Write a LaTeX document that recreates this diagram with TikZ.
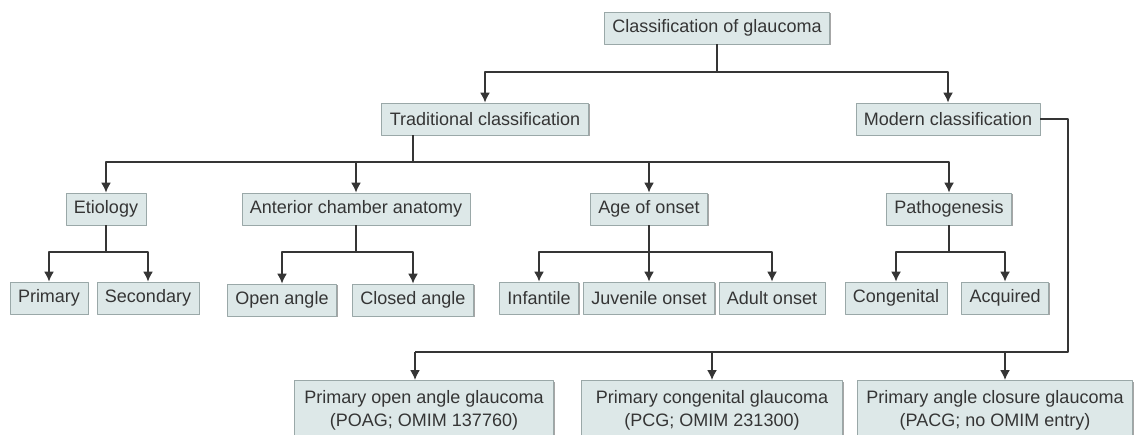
\documentclass[tikz,border=0pt]{standalone}
\usepackage{fontspec}
\setmainfont{Liberation Sans}
\usetikzlibrary{arrows.meta,shadows}
\definecolor{boxfill}{HTML}{DDE8E8}
\definecolor{boxline}{HTML}{9AA8A8}
\definecolor{ink}{HTML}{353535}
\begin{document}
\begin{tikzpicture}[x=0.5pt,y=-0.5pt,font=\fontsize{9}{11.5}\selectfont,line join=round,>={Latex[length=5pt,width=5pt]},
	box/.style={draw=boxline,fill=boxfill,text=ink,inner xsep=4pt,minimum height=16pt,drop shadow={shadow xshift=0.7pt,shadow yshift=-0.7pt,fill=black!35,opacity=1}},
	wide/.style={box,anchor=north,align=center,minimum width=#1,minimum height=30pt},
	link/.style={draw=ink,line width=0.8pt}]
	\useasboundingbox (0,0) rectangle (1143,434);
	\clip (0,0) rectangle (1143,434);
	% top levels
	\node[box] (root) at (717,28) {Classification of glaucoma};
	\node[box] (trad) at (485,119) {Traditional classification};
	\node[box] (modern) at (948,119) {Modern classification};
	% traditional branches
	\node[box] (etio) at (106,209) {Etiology};
	\node[box] (anat) at (356,209) {Anterior chamber anatomy};
	\node[box] (age) at (649,209) {Age of onset};
	\node[box] (patho) at (949,209) {Pathogenesis};
	\node[box] (prim) at (49,298) {Primary};
	\node[box] (sec) at (148,298) {Secondary};
	\node[box] (open) at (282,300) {Open angle};
	\node[box] (closed) at (413,300) {Closed angle};
	\node[box] (infant) at (539,298) {Infantile};
	\node[box] (juv) at (649,298) {Juvenile onset};
	\node[box] (adult) at (772,298) {Adult onset};
	\node[box] (cong) at (896,298) {Congenital};
	\node[box] (acq) at (1005,298) {Acquired};
	% modern branches
	\node[wide=129.5pt] (poag) at (424,380) {Primary open angle glaucoma\\(POAG; OMIM 137760)};
	\node[wide=130.5pt] (pcg) at (712,380) {Primary congenital glaucoma\\(PCG; OMIM 231300)};
	\node[wide=137.5pt] (pacg) at (995,380) {Primary angle closure glaucoma\\(PACG; no OMIM entry)};
	% junctions
	\coordinate (j0) at (717,72);
	\coordinate (j1) at (413,162);
	\coordinate (je) at (106,252);
	\coordinate (ja) at (356,252);
	\coordinate (jg) at (649,252);
	\coordinate (jp) at (949,252);
	\coordinate (m2) at (1068,352);
	\coordinate (m3) at (415,352);
	\coordinate (m4) at (712,352);
	\coordinate (m5) at (1005,352);
	% connectors
	\draw[link] (root) -- (j0);
	\draw[link,->] (j0) -| (trad.north);
	\draw[link,->] (j0) -| (modern.north);
	\draw[link] (trad.south -| j1) -- (j1);
	\foreach \n in {etio,anat,age,patho}\draw[link,->] (j1) -| (\n.north);
	\draw[link] (etio) -- (je);
	\foreach \n in {prim,sec}\draw[link,->] (je) -| (\n.north);
	\draw[link] (anat) -- (ja);
	\foreach \n in {open,closed}\draw[link,->] (ja) -| (\n.north);
	\draw[link,->] (age) -- (juv);
	\foreach \n in {infant,adult}\draw[link,->] (jg) -| (\n.north);
	\draw[link] (patho) -- (jp);
	\foreach \n in {cong,acq}\draw[link,->] (jp) -| (\n.north);
	\draw[link] (modern.east) -| (m2) -- (m3);
	\draw[link,->] (m3) -- (m3 |- poag.north);
	\draw[link,->] (m4) -- (pcg.north);
	\draw[link,->] (m5) -- (m5 |- pacg.north);
\end{tikzpicture}
\end{document}
